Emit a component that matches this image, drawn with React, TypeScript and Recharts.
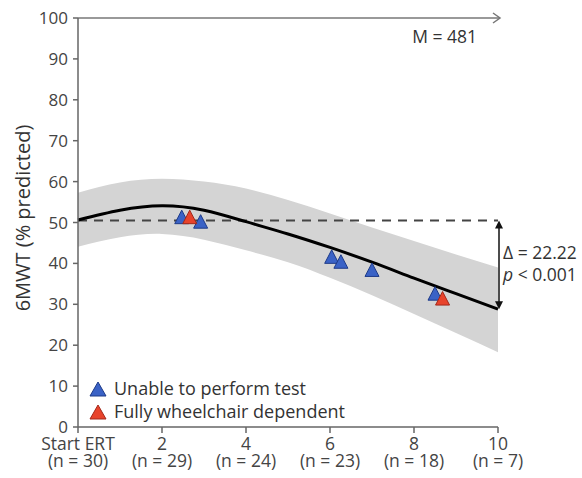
import React from 'react';
import {
  ComposedChart, Area, Line, Scatter, XAxis, YAxis, ReferenceLine
} from 'recharts';

// Years since start of ERT
const years = [0, 1, 2, 3, 4, 5, 6, 7, 8, 9, 10];
// Fitted 6MWT curve and its confidence band (% predicted)
const fitValues = [50.6, 53.0, 54.1, 53.0, 50.2, 47.2, 43.9, 40.3, 36.4, 32.6, 28.8];
const bandLower = [44.1, 46.4, 47.2, 45.8, 43.2, 40.3, 36.5, 32.2, 27.6, 23.0, 18.3];
const bandUpper = [57.3, 59.8, 60.7, 60.0, 58.3, 55.5, 52.2, 48.8, 45.5, 42.2, 39.0];

// Patients who dropped out of testing
const unableToPerform = [
  { x: 2.47, y: 51.3 }, { x: 2.92, y: 50.2 }, { x: 6.04, y: 41.6 },
  { x: 6.26, y: 40.4 }, { x: 7.0, y: 38.4 }, { x: 8.5, y: 32.6 },
];
const wheelchairDependent = [
  { x: 2.66, y: 51.3 }, { x: 8.68, y: 31.4 },
];

const baselineValue = 50.5;
const xTicks = [0, 2, 4, 6, 8, 10];
const xTickLabels = ['Start ERT', '2', '4', '6', '8', '10'];
const nLabels = ['(n = 30)', '(n = 29)', '(n = 24)', '(n = 23)', '(n = 18)', '(n = 7)'];
const yTicks = [0, 10, 20, 30, 40, 50, 60, 70, 80, 90, 100];

const curveData = years.map((x, i) => ({
  x, fit: fitValues[i], band: [bandLower[i], bandUpper[i]],
}));
const baselineData = [{ x: 0, base: baselineValue }, { x: 10, base: baselineValue }];

const BLUE = '#3a62c6';
const BLUE_EDGE = '#1d3a88';
const RED = '#e8432b';
const RED_EDGE = '#a3281a';
const FONT = '"Open Sans", sans-serif';

const groups = [
  { name: 'Unable to perform test', data: unableToPerform, fill: BLUE, edge: BLUE_EDGE },
  { name: 'Fully wheelchair dependent', data: wheelchairDependent, fill: RED, edge: RED_EDGE },
];

const triangle = (fill: string, stroke: string) => (props: any) => {
  const { cx, cy } = props;
  return (
    <polygon
      points={`${cx - 7},${cy + 6.5} ${cx},${cy - 7} ${cx + 7},${cy + 6.5}`}
      fill={fill}
      stroke={stroke}
      strokeWidth={1}
    />
  );
};

const XTick = (props: any) => {
  const { x, y, payload } = props;
  const i = xTicks.indexOf(payload.value);
  return (
    <g>
      <text x={x} y={y + 15} textAnchor="middle" fill="#444" fontSize={17.5} fontFamily={FONT}>
        {xTickLabels[i]}
      </text>
      <text x={x} y={y + 32} textAnchor="middle" fill="#444" fontSize={17.5} fontFamily={FONT}>
        {nLabels[i]}
      </text>
    </g>
  );
};

const TopArrow = (props: any) => {
  const { x1, y1, x2 } = props;
  const end = x2 + 2;
  return (
    <g>
      <line x1={x1} y1={y1} x2={end} y2={y1} stroke="#777" strokeWidth={1.5} />
      <polyline
        points={`${end - 7},${y1 - 5} ${end},${y1} ${end - 7},${y1 + 5}`}
        fill="none" stroke="#777" strokeWidth={1.5}
      />
      <text x={end - 23} y={y1 + 25} textAnchor="end" fill="#333" fontSize={17.5} fontFamily={FONT}>
        M = 481
      </text>
    </g>
  );
};

const DeltaArrow = (props: any) => {
  const { x1, y1, y2 } = props;
  const x = x1 + 1;
  const top = Math.min(y1, y2);
  const bottom = Math.max(y1, y2);
  return (
    <g>
      <line x1={x} y1={top + 6} x2={x} y2={bottom - 6} stroke="#111" strokeWidth={1.5} />
      <polygon points={`${x - 4},${top + 8} ${x},${top} ${x + 4},${top + 8}`} fill="#111" />
      <polygon points={`${x - 4},${bottom - 8} ${x},${bottom} ${x + 4},${bottom - 8}`} fill="#111" />
      <text x={x + 4} y={top + 39} fill="#333" fontSize={17.5} fontFamily={FONT}>Δ = 22.22</text>
      <text x={x + 4} y={top + 61} fill="#333" fontSize={17.5} fontFamily={FONT}>
        <tspan fontStyle="italic">p</tspan> &lt; 0.001
      </text>
    </g>
  );
};

export default function App() {
  return (
    <div style={{ position: 'absolute', left: 0, top: 0, width: 582, height: 478, background: '#fff' }}>
      <ComposedChart
        width={582}
        height={478}
        data={curveData}
        margin={{ top: 18, right: 84, bottom: 0, left: 0 }}
      >
        <XAxis
          dataKey="x"
          type="number"
          domain={[0, 10]}
          ticks={xTicks}
          interval={0}
          height={51}
          stroke="#666"
          strokeWidth={1.5}
          tickSize={6}
          tickMargin={2}
          tick={<XTick />}
        />
        <YAxis
          type="number"
          domain={[0, 100]}
          ticks={yTicks}
          interval={0}
          width={78}
          stroke="#666"
          strokeWidth={1.5}
          tickSize={5}
          tickMargin={5}
          tick={{ fill: '#444', fontSize: 17, fontFamily: FONT }}
          label={{
            content: () => (
              <text
                x={25}
                y={218}
                transform="rotate(-90 25 218)"
                textAnchor="middle"
                dominantBaseline="middle"
                fill="#333"
                fontSize={20}
                fontFamily={FONT}
              >
                6MWT (% predicted)
              </text>
            ),
          }}
        />
        <Area
          dataKey="band"
          type="natural"
          fill="#d4d4d4"
          fillOpacity={1}
          stroke="none"
          isAnimationActive={false}
        />
        <Line
          data={baselineData}
          dataKey="base"
          stroke="#444"
          strokeWidth={2}
          strokeDasharray="9 7"
          dot={false}
          isAnimationActive={false}
        />
        <Line
          dataKey="fit"
          type="natural"
          stroke="#000"
          strokeWidth={3}
          dot={false}
          isAnimationActive={false}
        />
        {groups.map((g) => (
          <Scatter
            key={g.name}
            name={g.name}
            data={g.data}
            dataKey="y"
            fill={g.fill}
            shape={triangle(g.fill, g.edge)}
            isAnimationActive={false}
          />
        ))}
        <ReferenceLine y={100} shape={<TopArrow />} />
        <ReferenceLine
          segment={[{ x: 10, y: baselineValue }, { x: 10, y: fitValues[fitValues.length - 1] }]}
          shape={<DeltaArrow />}
        />
      </ComposedChart>
      <div
        style={{
          position: 'absolute', left: 89, top: 377,
          fontFamily: FONT, fontSize: 18, color: '#333', lineHeight: '23px',
        }}
      >
        {groups.map((g) => (
          <div key={g.name} style={{ display: 'flex', alignItems: 'center', height: 23 }}>
            <svg width={18} height={16} style={{ marginRight: 7 }}>
              <polygon points="1,15 9,1 17,15" fill={g.fill} stroke={g.edge} strokeWidth={1} />
            </svg>
            <span>{g.name}</span>
          </div>
        ))}
      </div>
    </div>
  );
}
